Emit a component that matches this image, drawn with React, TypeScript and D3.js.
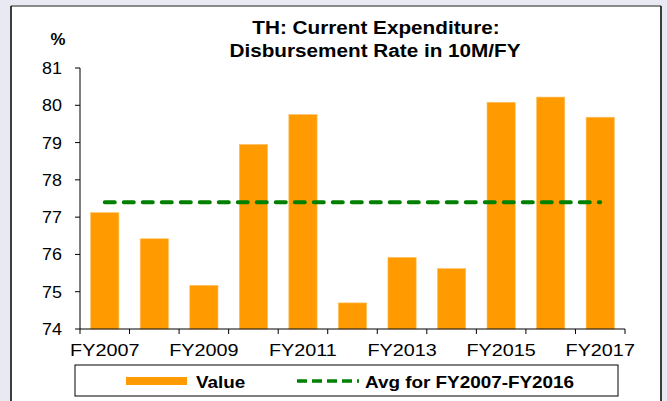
import React from "react";
import * as d3 from "d3";

const categories = ["FY2007","FY2008","FY2009","FY2010","FY2011","FY2012","FY2013","FY2014","FY2015","FY2016","FY2017"];
const values = [77.12, 76.42, 75.17, 78.95, 79.75, 74.70, 75.92, 75.62, 80.08, 80.22, 79.68];
const avgValue = 77.4;
const avgSpan = ["FY2007", "FY2017"];
const yTicks = [74, 75, 76, 77, 78, 79, 80, 81];
const xLabelCats = ["FY2007","FY2009","FY2011","FY2013","FY2015","FY2017"];
const titleLines = ["TH: Current Expenditure:", "Disbursement Rate in 10M/FY"];
const legendLabels = ["Value", "Avg for FY2007-FY2016"];

const W = 667, H = 401;
const FONT = "Arial, 'Liberation Sans', Helvetica, sans-serif";

function T({ x, y, size, s = 1, anchor = "start", bold = false, children }: any) {
  return (
    <text transform={`translate(${x},${y}) scale(${s},1)`} textAnchor={anchor} fontSize={size} fontWeight={bold ? "bold" : "normal"} fill="#000">
      {children}
    </text>
  );
}

export default function App() {
  const x = d3.scaleBand<string>().domain(categories).range([80, 625]).paddingInner(0.43).paddingOuter(0.215);
  const xb = d3.scaleBand<string>().domain(categories).range([80, 625]);
  const y = d3.scaleLinear().domain([74, 81]).range([329, 68]);
  const orange = "#ff9b00";
  const green = "#008000";
  const x1 = xb(avgSpan[0])! + xb.bandwidth() / 2;
  const x2 = xb(avgSpan[1])! + xb.bandwidth() / 2;
  const boundaries = categories.map((c) => xb(c)!).concat([625]);
  return (
    <svg width={W} height={H} style={{ position: "absolute", left: 0, top: 0 }} fontFamily={FONT}>
      <rect x={0} y={0} width={W} height={H} fill="#e9e9f3" />
      <rect x={11} y={6} width={650} height={H} fill="#ffffff" />
      <line x1={11} y1={6} x2={661} y2={6} stroke="#8a8a8a" strokeWidth={2} />
      <line x1={11} y1={6} x2={11} y2={H} stroke="#000" strokeWidth={1.5} />
      <line x1={661} y1={6} x2={661} y2={H} stroke="#000" strokeWidth={1.5} />

      <T x={376} y={34} size={18.5} s={1.12} anchor="middle" bold>{titleLines[0]}</T>
      <T x={375} y={57} size={18.5} s={1.12} anchor="middle" bold>{titleLines[1]}</T>
      <T x={58} y={45} size={16} s={1.05} anchor="middle" bold>%</T>

      {categories.map((c, i) => (
        <rect key={c} x={x(c)} y={y(values[i])} width={x.bandwidth()} height={y(74) - y(values[i])} fill={orange} stroke="#ffc060" strokeWidth={0.6} />
      ))}

      <line x1={x1} x2={x2} y1={y(avgValue)} y2={y(avgValue)} stroke={green} strokeWidth={4} strokeDasharray="10 9" strokeLinecap="round" />

      <line x1={80} x2={80} y1={y(81)} y2={y(74)} stroke="#000" strokeWidth={1} />
      {yTicks.map((t) => (
        <g key={t}>
          <line x1={75} x2={80} y1={y(t)} y2={y(t)} stroke="#000" strokeWidth={1} />
          <T x={62} y={y(t) + 6} size={16} s={1.12} anchor="end">{t}</T>
        </g>
      ))}

      <line x1={80} x2={625} y1={y(74)} y2={y(74)} stroke="#000" strokeWidth={1} />
      {boundaries.map((b, i) => (
        <line key={i} x1={b} x2={b} y1={y(74)} y2={y(74) + 5} stroke="#000" strokeWidth={1} />
      ))}
      {xLabelCats.map((c) => (
        <T key={c} x={xb(c)! + xb.bandwidth() / 2} y={356} size={16.5} s={1.2} anchor="middle">{c}</T>
      ))}

      <rect x={75} y={365} width={543} height={31} fill="#fff" stroke="#000" strokeWidth={1} />
      <rect x={126} y={377} width={61} height={8} fill={orange} />
      <T x={196} y={388} size={16} s={1.18} bold>{legendLabels[0]}</T>
      <line x1={297} x2={359} y1={381} y2={381} stroke={green} strokeWidth={3.5} strokeDasharray="10 5" />
      <T x={365} y={388} size={16} s={1.18} bold>{legendLabels[1]}</T>
    </svg>
  );
}
